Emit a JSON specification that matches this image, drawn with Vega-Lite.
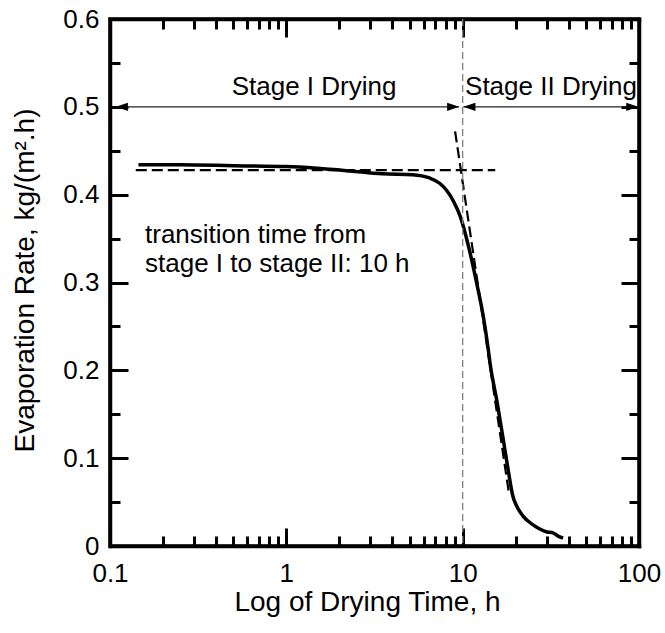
{
  "$schema": "https://vega.github.io/schema/vega-lite/v6.json",
  "width": 529,
  "height": 527,
  "autosize": "none",
  "padding": {"left": 110, "top": 19, "right": 26, "bottom": 87},
  "background": "white",
  "config": {
    "font": "Liberation Sans",
    "view": {"stroke": "black", "strokeWidth": 3.5},
    "axis": {
      "grid": false,
      "labelFont": "Liberation Sans",
      "titleFont": "Liberation Sans",
      "labelColor": "black",
      "titleColor": "black",
      "tickColor": "black",
      "domainColor": "black",
      "labelFontSize": 26,
      "titleFontSize": 28,
      "titleFontWeight": "normal",
      "labelOverlap": false,
      "labelFlush": false,
      "domainWidth": 3.5,
      "domainCap": "square",
      "tickWidth": 3
    }
  },
  "datasets": {
    "curve": [
      {"x": 0.145, "y": 0.434}, {"x": 0.25, "y": 0.434}, {"x": 0.5, "y": 0.433},
      {"x": 1.0, "y": 0.432}, {"x": 1.5, "y": 0.430}, {"x": 2.3, "y": 0.427},
      {"x": 3.5, "y": 0.4237}, {"x": 5.2, "y": 0.4228}, {"x": 6.5, "y": 0.419},
      {"x": 7.4, "y": 0.413}, {"x": 8.1, "y": 0.405}, {"x": 8.9, "y": 0.392},
      {"x": 9.7, "y": 0.375}, {"x": 10.8, "y": 0.341}, {"x": 12.0, "y": 0.2995},
      {"x": 13.1, "y": 0.261}, {"x": 13.9, "y": 0.227}, {"x": 14.3, "y": 0.208},
      {"x": 15.7, "y": 0.163}, {"x": 16.9, "y": 0.124}, {"x": 18.1, "y": 0.087},
      {"x": 19.3, "y": 0.056}, {"x": 20.3, "y": 0.045}, {"x": 22.0, "y": 0.034}, {"x": 25.1, "y": 0.024},
      {"x": 30.1, "y": 0.016}, {"x": 32.5, "y": 0.015}, {"x": 35.0, "y": 0.011},
      {"x": 37.1, "y": 0.009}
    ],
    "hdash": [{"x": 0.14, "y": 0.428}, {"x": 15.3, "y": 0.428}],
    "sdash": [{"x": 9.06, "y": 0.472}, {"x": 18.3, "y": 0.06}],
    "arrows": [{"x": 0.108, "x2": 9.55, "y": 0.5}, {"x": 10.1, "x2": 99, "y": 0.5}],
    "heads": [
      {"x": 0.108, "y": 0.5, "dir": "left"}, {"x": 9.55, "y": 0.5, "dir": "right"},
      {"x": 10.1, "y": 0.5, "dir": "left"}, {"x": 99, "y": 0.5, "dir": "right"}
    ],
    "vline": [{"x": 10}],
    "stages": [
      {"x": 1.436, "y": 0.5137, "label": "Stage I Drying"},
      {"x": 31.7, "y": 0.5137, "label": "Stage II Drying"}
    ],
    "note": [
      {"x": 0.158, "y": 0.345, "label": "transition time from"},
      {"x": 0.158, "y": 0.312, "label": "stage I to stage II: 10 h"}
    ]
  },
  "resolve": {"scale": {"x": "independent", "y": "independent"}, "axis": {"x": "independent", "y": "independent"}},
  "layer": [
    {
      "data": {"name": "curve"},
      "mark": {"type": "line", "color": "black", "strokeWidth": 3.5, "interpolate": "monotone", "clip": true},
      "encoding": {
        "x": {"field": "x", "type": "quantitative", "scale": {"type": "log", "domain": [0.1, 100], "nice": false},
          "axis": {"orient": "bottom", "values": [0.1, 1, 10, 100], "format": "~g", "ticks": false, "labelPadding": 14, "domainWidth": 3.5,
            "title": "Log of Drying Time, h", "titleBaseline": "alphabetic", "titleY": 64, "titleX": 257, "titleAlign": "center", "titleAnchor": null}},
        "y": {"field": "y", "type": "quantitative", "scale": {"domain": [0, 0.6], "nice": false, "zero": false},
          "axis": {"orient": "left", "values": [0, 0.1, 0.2, 0.3, 0.4, 0.5, 0.6], "format": "~g", "ticks": false, "labelPadding": 11, "domainWidth": 3.5,
            "title": "Evaporation Rate, kg/(m².h)", "titleBaseline": "alphabetic", "titleAngle": -90, "titleX": -77, "titleY": 261, "titleAlign": "center", "titleAnchor": null}}
      }
    },
    {
      "data": {"name": "hdash"},
      "mark": {"type": "line", "color": "black", "strokeWidth": 2.2, "strokeDash": [11, 5]},
      "encoding": {
        "x": {"field": "x", "type": "quantitative", "scale": {"type": "log", "domain": [0.1, 100], "nice": false},
          "axis": {"orient": "bottom", "values": [0.1, 1, 10, 100], "labels": false, "domain": false, "title": null, "tickSize": -18, "tickWidth": 3}},
        "y": {"field": "y", "type": "quantitative", "scale": {"domain": [0, 0.6], "nice": false, "zero": false},
          "axis": {"orient": "left", "values": [0, 0.1, 0.2, 0.3, 0.4, 0.5, 0.6], "labels": false, "domain": false, "title": null, "tickSize": -18, "tickWidth": 3}}
      }
    },
    {
      "data": {"name": "sdash"},
      "mark": {"type": "line", "color": "black", "strokeWidth": 2.2, "strokeDash": [11, 5]},
      "encoding": {
        "x": {"field": "x", "type": "quantitative", "scale": {"type": "log", "domain": [0.1, 100], "nice": false},
          "axis": {"orient": "bottom", "values": [0.2, 0.3, 0.4, 0.5, 0.6, 0.7, 0.8, 0.9, 2, 3, 4, 5, 6, 7, 8, 9, 20, 30, 40, 50, 60, 70, 80, 90], "labels": false, "domain": false, "title": null, "tickSize": -10, "tickWidth": 3}},
        "y": {"field": "y", "type": "quantitative", "scale": {"domain": [0, 0.6], "nice": false, "zero": false},
          "axis": {"orient": "left", "values": [0.05, 0.15, 0.25, 0.35, 0.45, 0.55], "labels": false, "domain": false, "title": null, "tickSize": -10, "tickWidth": 3}}
      }
    },
    {
      "data": {"name": "arrows"},
      "mark": {"type": "rule", "color": "#222222", "strokeWidth": 1.3},
      "encoding": {
        "x": {"field": "x", "type": "quantitative", "scale": {"type": "log", "domain": [0.1, 100], "nice": false},
          "axis": {"orient": "top", "values": [0.1, 1, 10, 100], "labels": false, "title": null, "tickSize": -18, "tickWidth": 3, "domainWidth": 3.5}},
        "x2": {"field": "x2"},
        "y": {"field": "y", "type": "quantitative", "scale": {"domain": [0, 0.6], "nice": false, "zero": false},
          "axis": {"orient": "right", "values": [0, 0.1, 0.2, 0.3, 0.4, 0.5, 0.6], "labels": false, "title": null, "tickSize": -18, "tickWidth": 3, "domainWidth": 3.5}}
      }
    },
    {
      "data": {"name": "heads"},
      "mark": {"type": "point", "filled": true, "color": "black", "opacity": 1, "size": 144, "strokeWidth": 0},
      "encoding": {
        "x": {"field": "x", "type": "quantitative", "scale": {"type": "log", "domain": [0.1, 100], "nice": false},
          "axis": {"orient": "top", "values": [0.2, 0.3, 0.4, 0.5, 0.6, 0.7, 0.8, 0.9, 2, 3, 4, 5, 6, 7, 8, 9, 20, 30, 40, 50, 60, 70, 80, 90], "labels": false, "domain": false, "title": null, "tickSize": -10, "tickWidth": 3}},
        "y": {"field": "y", "type": "quantitative", "scale": {"domain": [0, 0.6], "nice": false, "zero": false},
          "axis": {"orient": "right", "values": [0.05, 0.15, 0.25, 0.35, 0.45, 0.55], "labels": false, "domain": false, "title": null, "tickSize": -10, "tickWidth": 3}},
        "shape": {"field": "dir", "type": "nominal", "legend": null,
          "scale": {"domain": ["left", "right"], "range": ["M0,0L2,-0.7L2,0.7Z", "M0,0L-2,-0.7L-2,0.7Z"]}}
      }
    },
    {
      "data": {"name": "vline"},
      "mark": {"type": "rule", "color": "#808080", "strokeWidth": 1.3, "strokeDash": [7, 4]},
      "encoding": {
        "x": {"field": "x", "type": "quantitative", "scale": {"type": "log", "domain": [0.1, 100], "nice": false}, "axis": null}
      }
    },
    {
      "data": {"name": "stages"},
      "mark": {"type": "text", "fontSize": 26, "align": "center", "baseline": "alphabetic", "color": "black"},
      "encoding": {
        "x": {"field": "x", "type": "quantitative", "scale": {"type": "log", "domain": [0.1, 100], "nice": false}, "axis": null},
        "y": {"field": "y", "type": "quantitative", "scale": {"domain": [0, 0.6], "nice": false, "zero": false}, "axis": null},
        "text": {"field": "label"}
      }
    },
    {
      "data": {"name": "note"},
      "mark": {"type": "text", "fontSize": 26, "align": "left", "baseline": "alphabetic", "color": "black"},
      "encoding": {
        "x": {"field": "x", "type": "quantitative", "scale": {"type": "log", "domain": [0.1, 100], "nice": false}, "axis": null},
        "y": {"field": "y", "type": "quantitative", "scale": {"domain": [0, 0.6], "nice": false, "zero": false}, "axis": null},
        "text": {"field": "label"}
      }
    }
  ]
}
